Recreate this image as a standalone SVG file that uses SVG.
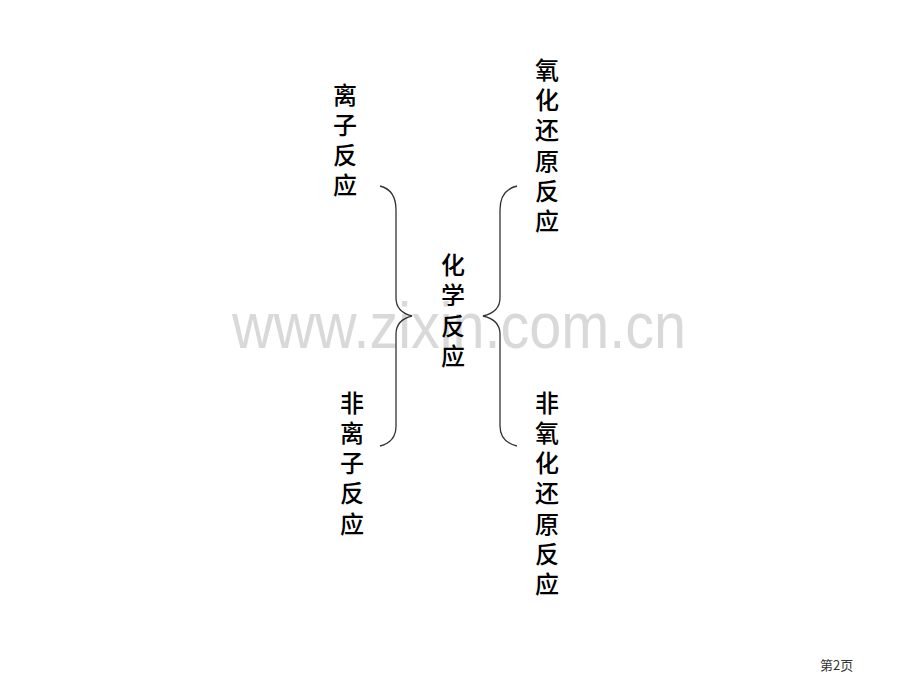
<svg xmlns="http://www.w3.org/2000/svg" width="920" height="690" viewBox="0 0 920 690">
<style>
.t{font-family:"Noto Sans CJK SC","Noto Sans CJK JP",sans-serif;font-size:24px;font-weight:500;fill:#000;text-anchor:middle}
.b{fill:none;stroke:#333;stroke-width:1.3}
.wm{font-family:"Liberation Sans",Arial,sans-serif;font-size:64px;fill:#d9d9d9}
.f{font-family:"Noto Sans CJK SC",sans-serif;font-size:13px;fill:#333}
</style>
<rect width="920" height="690" fill="#fff"/>
<text class="wm" x="232" y="348" textLength="454" lengthAdjust="spacingAndGlyphs">www.zixin.com.cn</text>
<g id="connectors">
<path class="b" d="M380,186 Q396,190 396,210 L396,298 Q396,312 412,316 Q396,320 396,334 L396,426 Q396,442 380,446"/>
<path class="b" d="M517,186 Q500,190 500,210 L500,298 Q500,312 483,316 Q500,320 500,334 L500,426 Q500,442 517,446"/>
</g>
<g id="n-ion">
<text class="t" x="345" y="104">离</text>
<text class="t" x="345" y="134">子</text>
<text class="t" x="345" y="164">反</text>
<text class="t" x="345" y="194">应</text>
</g>
<g id="n-redox">
<text class="t" x="547" y="79">氧</text>
<text class="t" x="547" y="109">化</text>
<text class="t" x="547" y="139">还</text>
<text class="t" x="547" y="170">原</text>
<text class="t" x="547" y="200">反</text>
<text class="t" x="547" y="230">应</text>
</g>
<g id="n-chem">
<text class="t" x="453" y="274">化</text>
<text class="t" x="453" y="304">学</text>
<text class="t" x="453" y="335">反</text>
<text class="t" x="453" y="365">应</text>
</g>
<g id="n-nonion">
<text class="t" x="352" y="412">非</text>
<text class="t" x="352" y="442">离</text>
<text class="t" x="352" y="472">子</text>
<text class="t" x="352" y="502">反</text>
<text class="t" x="352" y="533">应</text>
</g>
<g id="n-nonredox">
<text class="t" x="547" y="412">非</text>
<text class="t" x="547" y="442">氧</text>
<text class="t" x="547" y="472">化</text>
<text class="t" x="547" y="502">还</text>
<text class="t" x="547" y="533">原</text>
<text class="t" x="547" y="563">反</text>
<text class="t" x="547" y="593">应</text>
</g>
<text class="f" x="820" y="670">第2页</text>
</svg>
